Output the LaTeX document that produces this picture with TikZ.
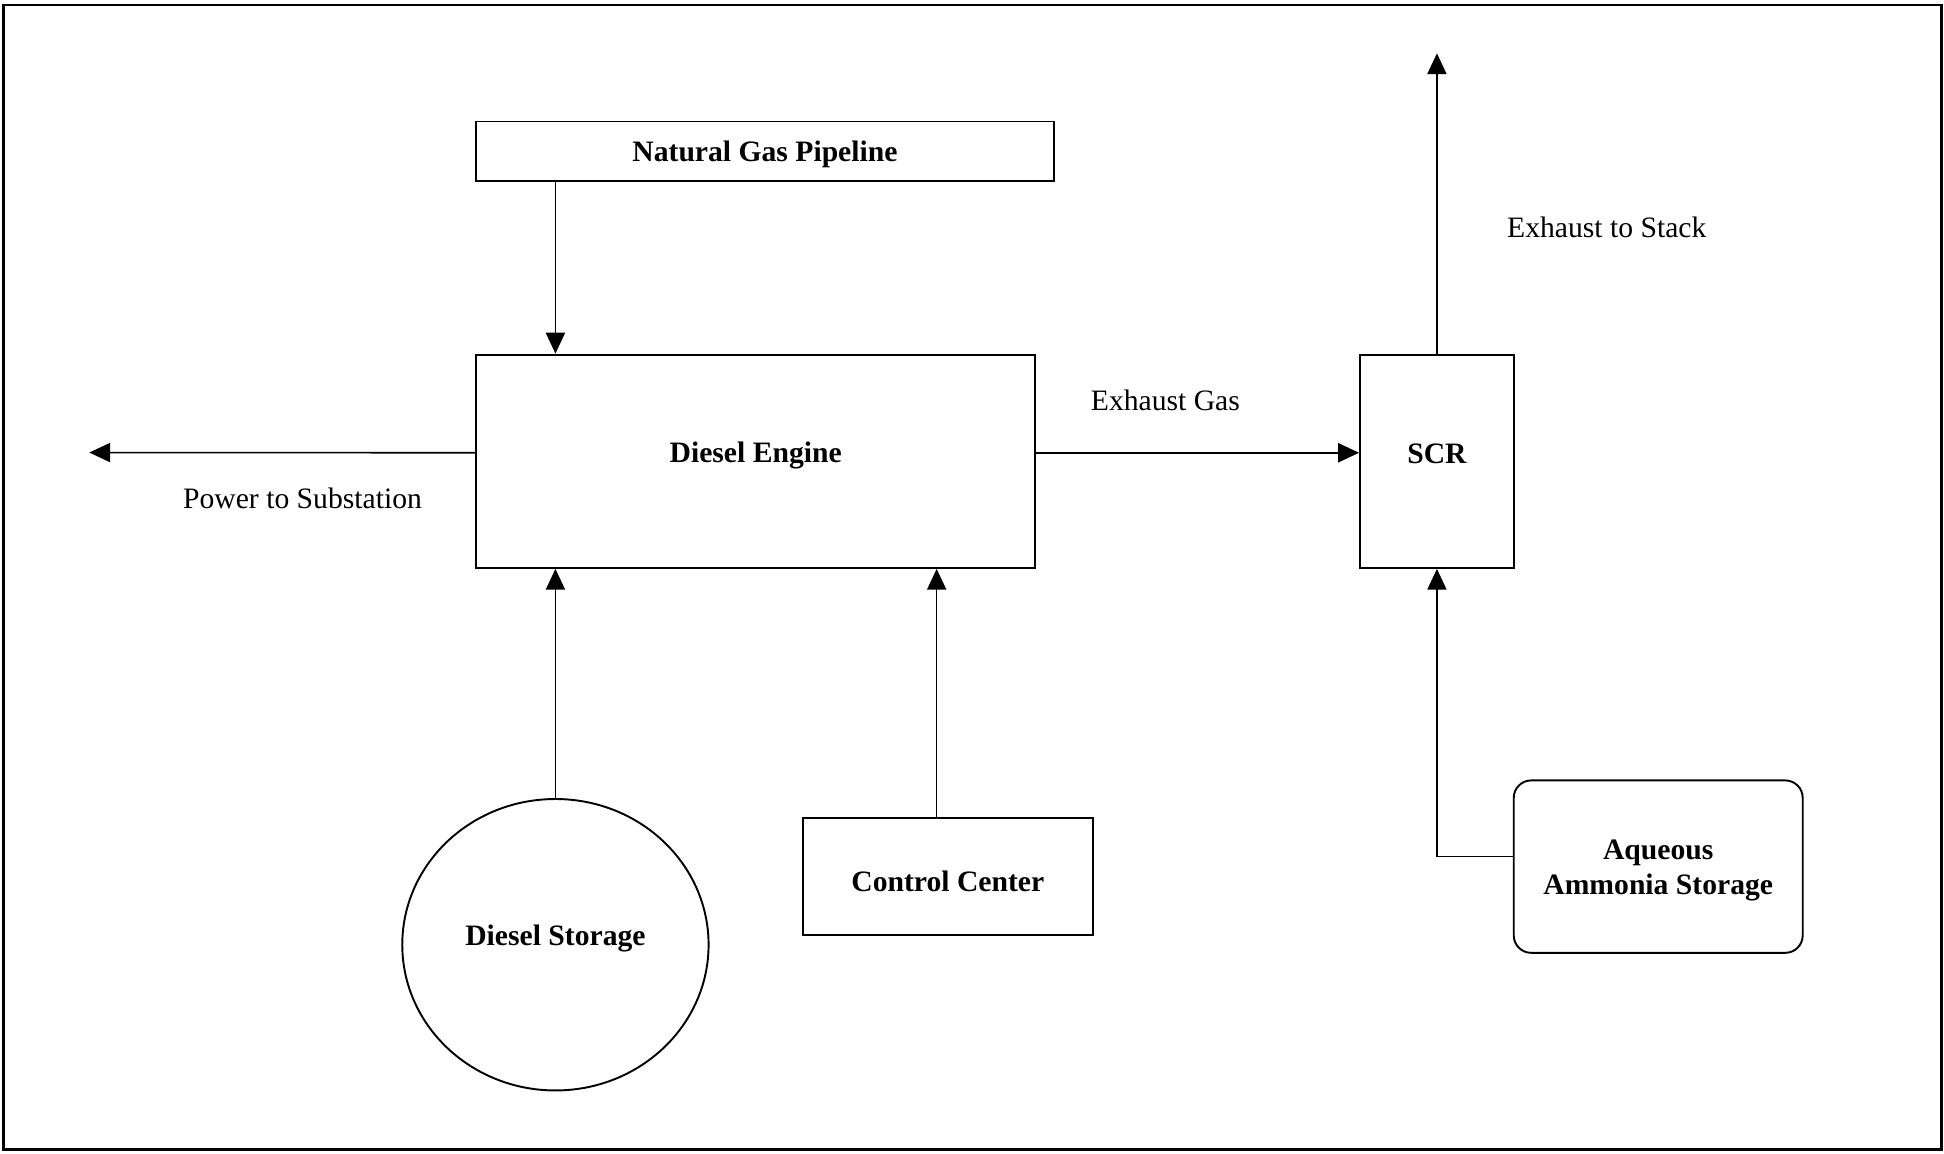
\documentclass[tikz,border=0pt]{standalone}
\usepackage{fontspec}
\setmainfont{Liberation Serif}
\usepackage{tikz}
\usetikzlibrary{arrows.meta,shapes.geometric}
\newcommand{\lift}[2]{\raisebox{#1}[\height][\depth]{#2}}

\begin{document}
\begin{tikzpicture}[x=0.025cm,y=-0.025cm,
    font=\fontsize{17}{20}\selectfont,
    unit/.style={draw, line width=1.1pt, font=\fontsize{17}{20}\selectfont\bfseries,
                 align=center, inner sep=0pt},
    flow/.style={line width=0.9pt, -{Triangle[length=12pt,width=11pt]}}]
                                \useasboundingbox (0,0) rectangle (1568,930);
                                \draw[line width=1.4pt] (3,4) rectangle (1566,927);
                                % plant blocks
                                \node[unit, minimum width=11.65cm, minimum height=1.2cm]
                                (ng) at (617,122) {\lift{-2pt}{Natural Gas Pipeline}};
                                \node[unit, minimum width=11.275cm, minimum height=4.3cm]
                                (de) at (609.5,372) {\lift{3.5pt}{Diesel Engine}};
                                \node[unit, minimum width=3.1cm, minimum height=4.3cm]
                                (scr) at (1159,372) {\lift{4.3pt}{SCR}};
                                \node[unit, ellipse, minimum width=6.175cm, minimum height=5.875cm]
                                (ds) at (448,762) {\lift{3.5pt}{Diesel Storage}};
                                \node[unit, minimum width=5.85cm, minimum height=2.375cm]
                                (cc) at (764.5,707) {\lift{-3pt}{Control Center}};
                                \node[unit, rounded corners=0.35cm, minimum width=5.825cm,
                                minimum height=3.475cm]
                                (am) at (1337.5,699) {\lift{-2pt}{Aqueous}\\\lift{-2pt}{Ammonia Storage}};
                                \coordinate (pwr) at (72,365);
                                \coordinate (stack) at (1159,43);
                                % flows
                                \draw[flow] (ng.south -| ds.north) -- (de.north -| ds.north);
                                \draw[flow] (ds.north) -- (de.south -| ds.north);
                                \draw[flow] ([xshift=-0.225cm]cc.north)
                                -- ([xshift=-0.225cm]cc.north |- de.south);
                                \draw[flow] ([yshift=0.17cm]de.west) -- (pwr);
                                \draw[flow] ([yshift=0.17cm]de.east) -- ([yshift=0.17cm]scr.west);
                                \draw[flow] (scr.north) -- (stack);
                                \draw[flow] ([yshift=0.2cm]am.west) -| (scr.south);
                                \node (pwrlbl) at (244,402) {Power to Substation};
                                \node (exlbl) at (940,323) {Exhaust Gas};
                                \node (stklbl) at (1296,183) {Exhaust to Stack};
                        \end{tikzpicture}
\end{document}
